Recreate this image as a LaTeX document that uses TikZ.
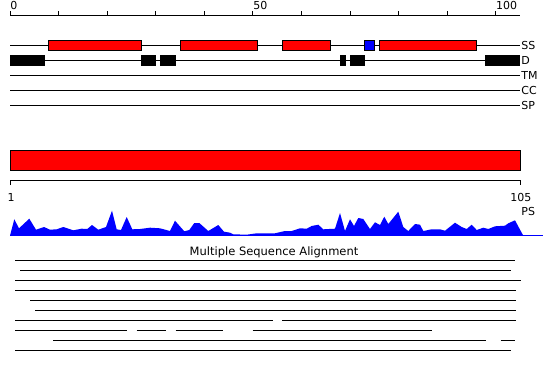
\documentclass[tikz,border=0pt]{standalone}
\usepackage{fontspec}
\setmainfont{DejaVu Sans}
\definecolor{ssred}{RGB}{255,0,0}
\definecolor{ssblue}{RGB}{0,0,255}
\begin{document}
\begin{tikzpicture}[x=1pt,y=-1pt,line width=0.9pt,
  lbl/.style={inner sep=0pt,font=\fontsize{11}{13}\selectfont},
  helix/.style={draw=black,fill=ssred,line width=0.9pt},
  strand/.style={draw=black,fill=ssblue,line width=0.9pt},
  dis/.style={fill=black},
  track/.style={draw=black,line width=0.9pt},
  aln/.style={draw=black,line width=0.9pt}]
\useasboundingbox (0,0) rectangle (550,380);
% top ruler
\draw[track] (10,15) -- (520,15);
\foreach \i in {0,...,10} \draw[track] ({10+\i*48.57},11) -- ({10+\i*48.57},15);
\node[lbl,anchor=base west] (r0) at (10,9.8) {0};
\node[lbl,anchor=base west] (r50) at (252.9,9.8) {50};
\node[lbl,anchor=base west] (r100) at (495.7,9.8) {100};
% tracks
\foreach \y/\t in {45/SS,60/D,75/TM,90/CC,105/SP} {
  \draw[track] (10,\y) -- (520,\y);
  \node[lbl,anchor=base west] at (521,\y+4.2) {\t};
}
% SS elements
\draw[helix] (48.7,40) rectangle (141.7,50);
\draw[helix] (180.7,40) rectangle (257.7,50);
\draw[helix] (282.3,40) rectangle (330.7,50);
\draw[strand] (364.3,40) rectangle (374.7,50);
\draw[helix] (379.3,40) rectangle (476.7,50);
% disorder
\fill[dis] (10,55) rectangle (44.7,65.7);
\fill[dis] (141.3,55) rectangle (155.7,65.7);
\fill[dis] (160,55) rectangle (176,65.7);
\fill[dis] (340,55) rectangle (346,65.7);
\fill[dis] (350,55) rectangle (365,65.7);
\fill[dis] (485,55) rectangle (520,65.7);
% domain bar
\draw[helix] (10,150) rectangle (520.5,170.3);
% bottom ruler
\draw[track] (10,185) -- (10,180.7) -- (520.5,180.7) -- (520.5,185);
\node[lbl,anchor=base] (b1) at (11,201) {1};
\node[lbl,anchor=base] (b105) at (520.8,201) {105};
\node[lbl,anchor=base west] (ps) at (521,215) {PS};
% profile
\fill[ssblue] (10,235.7) -- (14.3,219.3) -- (19,228.3) -- (29.3,218.7) -- (36,229.7) -- (44,227) -- (50,229.7) -- (56.7,229.3) -- (63.3,227) -- (73.3,230.3) -- (81.7,228.7) -- (87.3,229) -- (92,225) -- (98.3,229.7) -- (106,227) -- (112,210.7) -- (116.7,229.3) -- (121,230) -- (126.7,217) -- (132.3,229.3) -- (140,229) -- (150,227.7) -- (160,228.3) -- (170,231) -- (175,220.7) -- (184.3,231.3) -- (189.3,230) -- (194.3,223) -- (199.3,223) -- (208.3,231) -- (218.3,225) -- (224,231.7) -- (230,232.7) -- (233.3,234.3) -- (246.7,234.7) -- (256.7,233.3) -- (275,233.3) -- (285,231) -- (291.7,231) -- (300,228.3) -- (306.7,228.7) -- (311.7,226) -- (318.3,224.7) -- (323.3,229.3) -- (335,228.7) -- (340,213) -- (345,231) -- (350,219.3) -- (354,226) -- (358.3,218) -- (363.3,219) -- (370,229) -- (375,222.3) -- (380,225) -- (384.3,216.7) -- (388.3,224) -- (398.3,211.7) -- (403.3,227) -- (408.3,231) -- (415,224) -- (420,224.7) -- (423.3,231) -- (431.7,229.3) -- (440,229.3) -- (445,230.7) -- (455,222.7) -- (461.7,227) -- (466.7,229) -- (471.7,224.7) -- (476.7,230) -- (483.3,227.7) -- (488.3,229) -- (495,226.3) -- (505,225.7) -- (508.3,223.3) -- (515,220.3) -- (523.3,235.7) -- cycle;
\draw[ssblue,line width=0.9pt] (10,235.7) -- (543,235.7);
% MSA
\node[inner sep=0pt,anchor=base,font=\fontsize{11.5}{13}\selectfont] (msa) at (274,255) {Multiple Sequence Alignment};
\draw[aln] (15,260.7) -- (515,260.7);
\draw[aln] (20,270.7) -- (511,270.7);
\draw[aln] (15,280.7) -- (521,280.7);
\draw[aln] (15,290.7) -- (515.7,290.7);
\draw[aln] (30,300.7) -- (515.7,300.7);
\draw[aln] (35,310.7) -- (515.7,310.7);
\draw[aln] (15,320.7) -- (272.7,320.7) (282.3,320.7) -- (515.7,320.7);
\draw[aln] (15,330.7) -- (126.7,330.7) (136.7,330.7) -- (165.7,330.7) (175.7,330.7) -- (223.3,330.7) (252.7,330.7) -- (432.3,330.7);
\draw[aln] (53.3,340) -- (486,340) (500.7,340) -- (515,340);
\draw[aln] (15,350) -- (510.7,350);
\end{tikzpicture}
\end{document}
